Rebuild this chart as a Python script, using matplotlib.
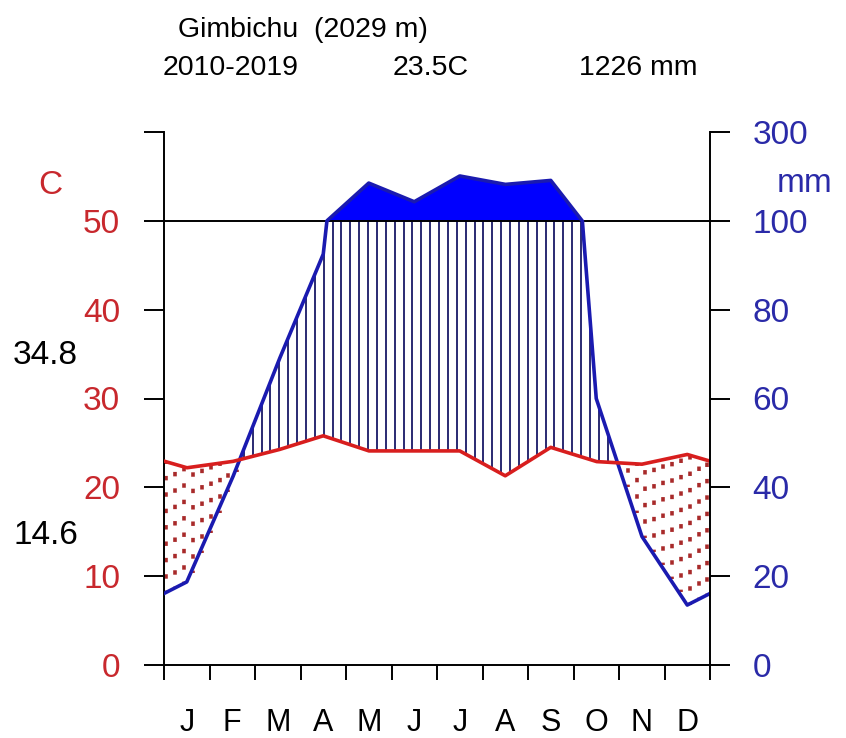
import numpy as np
import matplotlib
matplotlib.use('Agg')
import matplotlib.pyplot as plt
from matplotlib import transforms

plt.rcParams['font.family'] = ['Liberation Sans', 'DejaVu Sans']
plt.rcParams['lines.scale_dashes'] = False

# station data
station = 'Gimbichu'
altitude = 2029
period = '2010-2019'
months = ['J', 'F', 'M', 'A', 'M', 'J', 'J', 'A', 'S', 'O', 'N', 'D']
temp = [22.2, 22.9, 24.2, 25.8, 24.1, 24.1, 24.1, 21.3, 24.5, 22.9, 22.6, 23.7]
prec = [18.7, 42, 68, 92.5, 185, 143, 201, 182, 191, 60, 29, 13.5]
abs_max = 34.8
abs_min = 14.6
left_labels = ['0', '10', '20', '30', '40', '50', '']
right_labels = ['0', '20', '40', '60', '80', '100', '300']

red = '#d81e1e'
blue = '#1a1ab0'
lab_red = '#c8282d'
lab_blue = '#2a2aa8'


def scale_p(p):
    # walter-lieth: 2 mm per degree up to 100 mm, then 20 mm per degree
    p = np.asarray(p, dtype=float)
    return np.where(p <= 100, p / 2.0, 50 + (p - 100) / 20.0)


# extend the curves to the edges with the dec/jan mean
xm = np.arange(12) + 0.5
x_ext = np.r_[0, xm, 12]
t_edge = (temp[0] + temp[-1]) / 2
p_edge = (prec[0] + prec[-1]) / 2
t_ext = np.r_[t_edge, temp, t_edge]
p_ext = np.r_[p_edge, prec, p_edge]

xi = np.linspace(0, 12, 2401)
ti = np.interp(xi, x_ext, t_ext)
psi = scale_p(np.interp(xi, x_ext, p_ext))

xs = np.arange(0, 12, 0.195)
th = np.interp(xs, x_ext, t_ext)
ph = scale_p(np.interp(xs, x_ext, p_ext))

fig = plt.figure(figsize=(8.46, 7.38), dpi=100)
ax = fig.add_axes([164 / 846, 73 / 738, 546 / 846, 533 / 738])
ax.set_xlim(0, 12)
ax.set_ylim(0, 60)

# humid period - vertical hatching
wet = ph > th
ax.vlines(xs[wet], th[wet], np.minimum(ph[wet], 50), colors='#2a2a72', lw=1.4, zorder=2)
# dry period - dotted red
dry = th > ph
ax.vlines(xs[dry] + 0.05, ph[dry], th[dry], colors='#a82a2a', lw=2.6,
          linestyles=[(1.5, (3.2, 8.6))], zorder=2)
# very wet (> 100 mm) solid
ax.fill_between(xi, 50, psi, where=psi >= 50, color='#0000ff', lw=0, zorder=3)

ax.plot(xi, psi, color=blue, lw=2.6, zorder=4)
ax.plot(xi, ti, color=red, lw=2.6, zorder=5)
ax.axhline(50, color='k', lw=1.4, zorder=3)

for s in ['top', 'right']:
    ax.spines[s].set_visible(False)
for s in ['left', 'bottom']:
    ax.spines[s].set_linewidth(1.4)

ax.set_xticks(range(13))
ax.set_xticklabels([])
ax.tick_params(axis='x', which='major', direction='out', length=11, width=1.4)
ax.set_xticks(xm, minor=True)
ax.set_xticklabels(months, minor=True)
ax.tick_params(axis='x', which='minor', length=0, pad=31, labelsize=22)

ax.set_yticks(range(0, 61, 10))
ax.set_yticklabels(left_labels)
ax.tick_params(axis='y', direction='out', length=14.5, width=1.4, pad=17,
               labelsize=24, labelcolor=lab_red)

ax2 = ax.twinx()
ax2.set_ylim(0, 60)
for s in ['top', 'left', 'bottom']:
    ax2.spines[s].set_visible(False)
ax2.spines['right'].set_linewidth(1.4)
ax2.set_yticks(range(0, 61, 10))
ax2.set_yticklabels(right_labels)
ax2.tick_params(axis='y', direction='out', length=14.5, width=1.4, pad=16,
                labelsize=24, labelcolor=lab_blue)

# titles
fig.text(178 / 846, 1 - 30 / 738, '%s  (%d m)' % (station, altitude),
         fontsize=20.5, va='center', ha='left')
fig.text(163 / 846, 1 - 68 / 738, period, fontsize=20.5, va='center', ha='left')
fig.text(431 / 846, 1 - 68 / 738, '%.1fC' % np.mean(temp), fontsize=20.5,
         va='center', ha='center')
fig.text(697 / 846, 1 - 68 / 738, '%d mm' % round(sum(prec)), fontsize=20.5,
         va='center', ha='right')

fig.text(50 / 846, 1 - 185 / 738, 'C', fontsize=24, color=lab_red, va='center', ha='center')
fig.text(805 / 846, 1 - 183 / 738, 'mm', fontsize=24, color=lab_blue, va='center', ha='center')

trans = transforms.blended_transform_factory(fig.transFigure, ax.transData)
ax.text(13 / 846, abs_max, '%.1f' % abs_max, transform=trans, fontsize=24,
        va='center', ha='left')
ax.text(14 / 846, abs_min, '%.1f' % abs_min, transform=trans, fontsize=24,
        va='center', ha='left')

fig.savefig('out.png', dpi=100, facecolor='white')
